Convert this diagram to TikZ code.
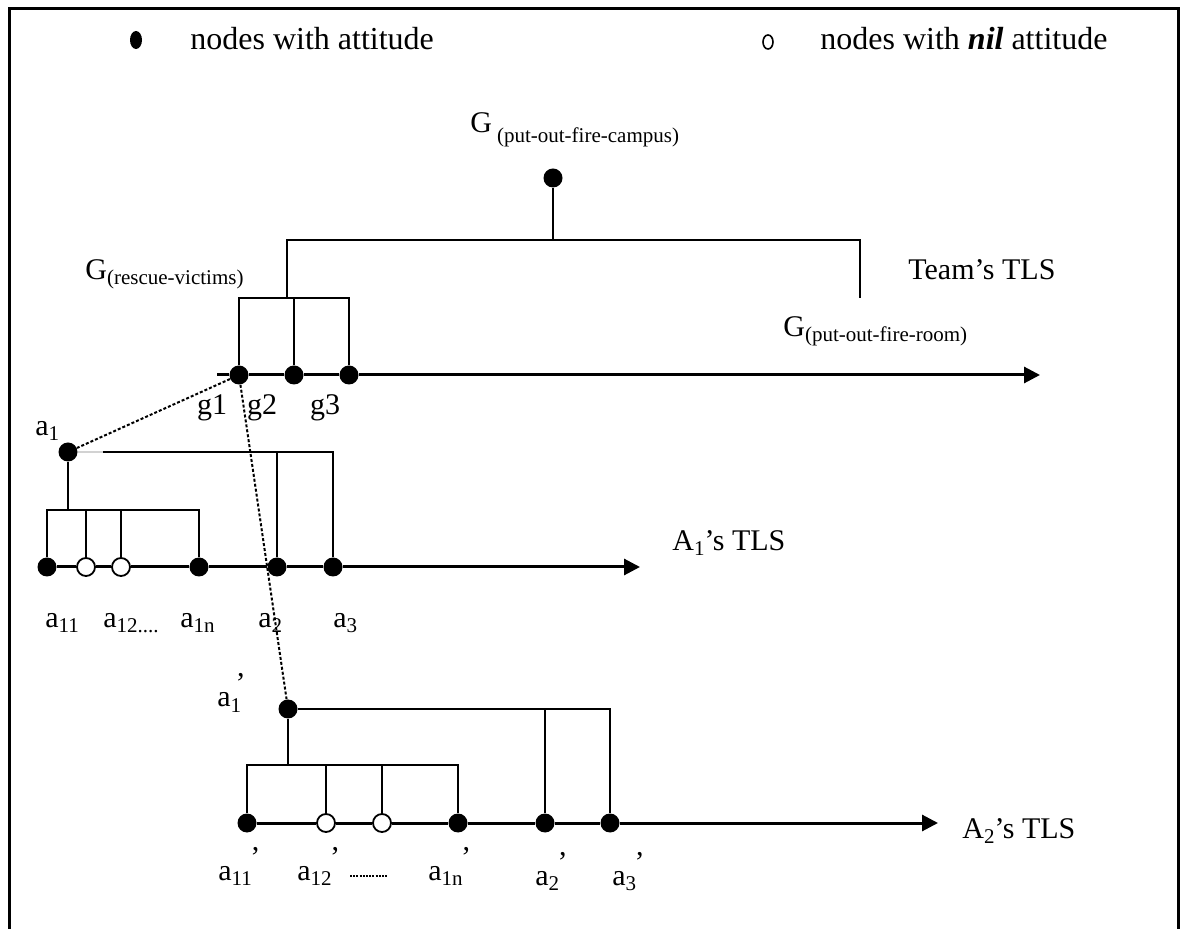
\documentclass[tikz,border=0pt]{standalone}
\usepackage{fontspec}
\setmainfont{Liberation Serif}
\usetikzlibrary{arrows.meta,shapes.geometric}

% small lowered text and the raised comma used as prime
\newcommand{\sub}[1]{\raisebox{-2.5pt}{\fontsize{10.5}{12}\selectfont #1}}
\newcommand{\prm}{\raisebox{15pt}{,}}

\tikzset{
  attnode/.style={circle,fill,inner sep=0pt,minimum size=9.5pt},
  nilnode/.style={circle,draw,fill=white,line width=0.9pt,inner sep=0pt,minimum size=9pt},
  treeline/.style={line width=1pt},
  tlsline/.style={line width=1.5pt},
  tlsarrow/.style={line width=1.5pt,-{Triangle[length=8pt,width=8pt]}},
  linkline/.style={line width=1pt,dash pattern=on 1.5pt off 1pt},
  lbl/.style={font=\fontsize{15}{18}\selectfont,inner sep=0pt},
  leglbl/.style={font=\fontsize{16}{19}\selectfont,inner sep=0pt},
}

\begin{document}
\begin{tikzpicture}[x=0.5pt,y=-0.5pt]
\useasboundingbox (0,0) rectangle (1183,929);
% frame, open at the bottom
\draw[line width=1.5pt] (9,929) -- (9,9) -- (1178,9) -- (1178,929);

% legend
\node[ellipse,fill,inner sep=0pt,minimum width=6pt,minimum height=9pt] (legatt) at (136,40) {};
\node[leglbl,anchor=base west] (legatttxt) at (190,50) {nodes with attitude};
\node[ellipse,draw,line width=0.8pt,inner sep=0pt,minimum width=5pt,minimum height=7pt] (legnil) at (768,42) {};
\node[leglbl,anchor=base west] (legniltxt) at (820,50) {nodes with \textbf{\textit{nil}} attitude};

% Team's TLS
\node[attnode] (gcamp) at (553,178) {};
\node[lbl,anchor=base west] (gcampl) at (470,133) {G\,\raisebox{-5pt}{\fontsize{10.5}{12}\selectfont (put-out-fire-campus)}};
\coordinate (tbarl) at (287,240);
\coordinate (tbarr) at (860,240);
\coordinate (troom) at (860,298);
\coordinate (tsub) at (0,298);
\coordinate (tstart) at (217,375);
\coordinate (tend) at (1040,375);
\node[attnode] (tg1) at (239,375) {};
\node[attnode] (tg2) at (294,375) {};
\node[attnode] (tg3) at (349,375) {};

\draw[treeline] (gcamp) -- (gcamp |- tbarl);
\draw[treeline] (tbarl |- tsub) -- (tbarl) -- (tbarr) -- (troom);
\draw[treeline] (tg1) |- (tg3 |- tsub) -- (tg3);
\draw[treeline] (tg2) -- (tg2 |- tsub);
\draw[tlsline] (tstart) -- (tg1) -- (tg2) -- (tg3);
\draw[tlsarrow] (tg3) -- (tend);

\node[lbl,anchor=base west] (rescl) at (85,280) {G\sub{(rescue-victims)}};
\node[lbl,anchor=base west] (rooml) at (783,337) {G\sub{(put-out-fire-room)}};
\node[lbl,anchor=base west] (teamtls) at (908,280) {Team’s TLS};
\node[lbl,anchor=base] (g1l) at (212,415) {g1};
\node[lbl,anchor=base] (g2l) at (262,415) {g2};
\node[lbl,anchor=base] (g3l) at (325,415) {g3};

% A1's TLS
\node[attnode] (pa1) at (68,452) {};
\coordinate (pa1gap) at (103,452);
\coordinate (abar) at (0,510);
\coordinate (a1end) at (640,567);
\node[attnode] (pa11) at (47,567) {};
\node[nilnode] (pa12) at (86,567) {};
\node[nilnode] (pa13) at (121,567) {};
\node[attnode] (pa1n) at (199,567) {};
\node[attnode] (pa2) at (277,567) {};
\node[attnode] (pa3) at (333,567) {};

\draw[treeline,gray!35] (pa1) -- (pa1gap);
\draw[treeline] (pa1gap) -| (pa3);
\draw[treeline] (pa2 |- pa1gap) -- (pa2);
\draw[treeline] (pa1) -- (pa1 |- abar);
\draw[treeline] (pa11) |- (pa1n |- abar) -- (pa1n);
\draw[treeline] (pa12) -- (pa12 |- abar);
\draw[treeline] (pa13) -- (pa13 |- abar);
\draw[tlsline] (pa11) -- (pa12) -- (pa13) -- (pa1n) -- (pa2) -- (pa3);
\draw[tlsarrow] (pa3) -- (a1end);

\node[lbl,anchor=base west] (la1) at (35,436) {a\sub{1}};
\node[lbl,anchor=base west] (a1tls) at (672,551) {A\sub{1}’s TLS};
\node[lbl,anchor=base west] (la11) at (45,628) {a\sub{11}};
\node[lbl,anchor=base west] (la12) at (103,628) {a\sub{12....}};
\node[lbl,anchor=base west] (la1n) at (180,628) {a\sub{1n}};
\node[lbl,anchor=base west] (la2) at (258,628) {a\sub{2}};
\node[lbl,anchor=base west] (la3) at (333,628) {a\sub{3}};

% A2's TLS
\node[attnode] (qa1) at (288,709) {};
\coordinate (bbar) at (0,765);
\coordinate (a2end) at (938,823);
\node[attnode] (qa11) at (247,823) {};
\node[nilnode] (qa12) at (326,823) {};
\node[nilnode] (qa13) at (382,823) {};
\node[attnode] (qa1n) at (458,823) {};
\node[attnode] (qa2) at (545,823) {};
\node[attnode] (qa3) at (610,823) {};

\draw[treeline] (qa1) -| (qa3);
\draw[treeline] (qa2 |- qa1) -- (qa2);
\draw[treeline] (qa1) -- (qa1 |- bbar);
\draw[treeline] (qa11) |- (qa1n |- bbar) -- (qa1n);
\draw[treeline] (qa12) -- (qa12 |- bbar);
\draw[treeline] (qa13) -- (qa13 |- bbar);
\draw[tlsline] (qa11) -- (qa12) -- (qa13) -- (qa1n) -- (qa2) -- (qa3);
\draw[tlsarrow] (qa3) -- (a2end);

\node[lbl,anchor=base west] (lb1) at (217,707) {a\sub{1}\kern-2pt\prm};
\node[lbl,anchor=base west] (a2tls) at (962,838) {A\sub{2}’s TLS};
\node[lbl,anchor=base west] (lb11) at (218,880) {a\sub{11}\prm};
\node[lbl,anchor=base west] (lb12) at (297,880) {a\sub{12}\prm};
\coordinate (dotsl) at (350,876);
\coordinate (dotsr) at (388,876);
\draw[line width=1pt,dash pattern=on 1pt off 0.6pt] (dotsl) -- (dotsr);
\node[lbl,anchor=base west] (lb1n) at (428,880) {a\sub{1n}\prm};
\node[lbl,anchor=base west] (lb2) at (535,885) {a\sub{2}\prm};
\node[lbl,anchor=base west] (lb3) at (612,885) {a\sub{3}\prm};

% links between the levels
\draw[linkline] (tg1) -- (pa1);
\draw[linkline] (tg1) -- (qa1);
\end{tikzpicture}
\end{document}
